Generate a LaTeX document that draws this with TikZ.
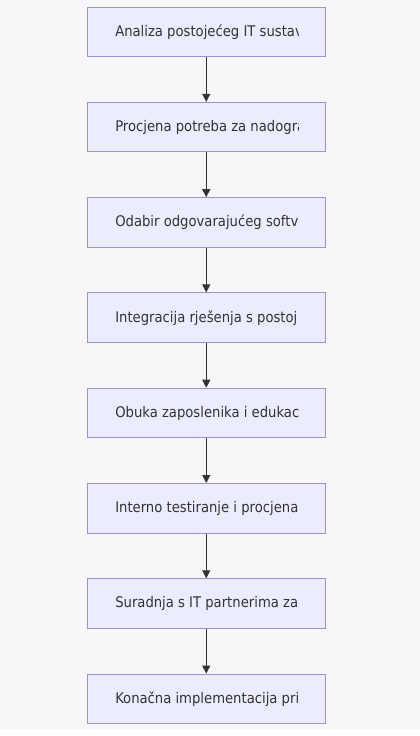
\documentclass[tikz,border=0pt]{standalone}
\usepackage{fontspec}
\setmainfont{DejaVu Sans Condensed}
\usetikzlibrary{arrows.meta}
\definecolor{bgc}{HTML}{F7F7F9}
\definecolor{boxfill}{HTML}{ECECFF}
\definecolor{boxline}{HTML}{9F8FD8}
\definecolor{txt}{HTML}{333333}
\definecolor{arr}{HTML}{333333}
\tikzset{
  stepbox/.style={draw=boxline, fill=boxfill, line width=0.75pt, minimum width=178.5pt, minimum height=37.2pt, inner sep=0pt},
  steptext/.style={anchor=west, text=txt, font=\fontsize{11}{13}\selectfont, inner sep=0pt},
  flowarrow/.style={draw=arr, line width=0.75pt, -{Triangle[length=6pt,width=6pt]}}
}
\begin{document}
\begin{tikzpicture}[x=0.75pt,y=-0.75pt]
\useasboundingbox (0,0) rectangle (420,736);
\fill[white] (0,0) rectangle (420,736);
\fill[bgc] (0,0) rectangle (420,729);
\foreach \i/\t in {1/Analiza postojećeg IT sustav,2/Procjena potreba za nadogra,3/Odabir odgovarajućeg softve,4/Integracija rješenja s postoj,5/Obuka zaposlenika i edukaci,6/Interno testiranje i procjena,7/Suradnja s IT partnerima za,8/Konačna implementacija pri}{
  \pgfmathsetmacro{\cy}{7+24.8+(\i-1)*95.3}
  \node[stepbox] (b\i) at (206.25,\cy) {};
  \begin{scope}
    \clip (88,\cy-20) rectangle (298.5,\cy+20);
    \node[steptext] (t\i) at (115,\cy) {\t};
  \end{scope}
}
\foreach \i [evaluate=\i as \j using int(\i+1)] in {1,...,7}{
  \draw[flowarrow] (b\i.south) -- (b\j.north);
}
\end{tikzpicture}
\end{document}
